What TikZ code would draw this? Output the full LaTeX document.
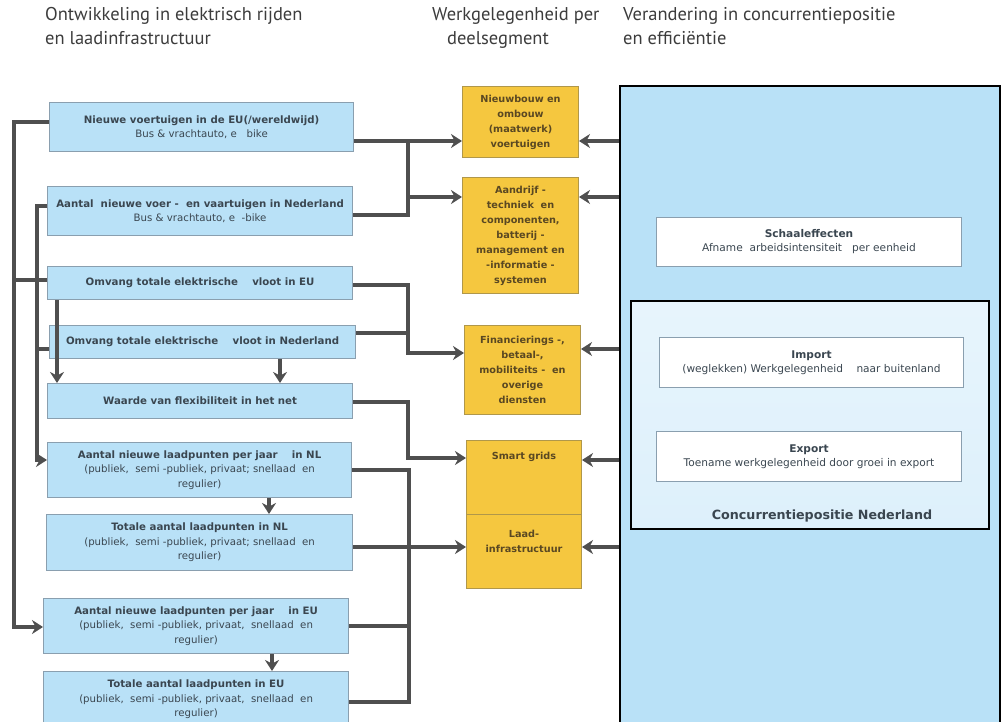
\documentclass[tikz,border=0pt]{standalone}
\usepackage{fontspec}
\setmainfont{DejaVu Sans}
\newfontfamily\kopfont{PT Sans}
\usetikzlibrary{arrows.meta,positioning}

\definecolor{vakblauw}{HTML}{B9E1F7}
\definecolor{lichtblauw}{HTML}{DDF0FB}
\definecolor{randblauw}{HTML}{8A9FAF}
\definecolor{vakgeel}{HTML}{F5C73F}
\definecolor{randgeel}{HTML}{B0974A}
\definecolor{pijlgrijs}{HTML}{4F4F4F}
\definecolor{tekstblauw}{HTML}{3A4650}
\definecolor{tekstgeel}{HTML}{5A4822}
\definecolor{koptekst}{HTML}{3C3C3C}

\begin{document}
\begin{tikzpicture}[x=1pt,y=-1pt,
  kop/.style={anchor=north west,align=left,inner sep=0pt,text=koptekst,font=\kopfont\fontsize{18.5}{24}\selectfont},
  blauw/.style={draw=randblauw,fill=vakblauw,line width=1.2pt,anchor=north west,align=center,inner sep=1pt,text=tekstblauw,font=\fontsize{10.2}{14.5}\selectfont},
  geel/.style={draw=randgeel,fill=vakgeel,line width=1pt,anchor=north west,align=center,inner sep=1pt,text=tekstgeel,font=\bfseries\fontsize{9.7}{15}\selectfont},
  wit/.style={draw=randblauw,fill=white,line width=1pt,anchor=north west,align=center,inner sep=1pt,text=tekstblauw,font=\fontsize{10.6}{14}\selectfont},
  lijn/.style={draw=pijlgrijs,line width=3.2pt},
  pijl/.style={lijn,-{Stealth[length=11pt,width=14pt]}}]
\useasboundingbox (0,0) rectangle (1001,722);

% koppen
\node[kop] (kop1) at (45,7) {Ontwikkeling in elektrisch rijden\\en laadinfrastructuur};
\node[kop] (kop2) at (432,7) {Werkgelegenheid per\\\hspace{15pt}deelsegment};
\node[kop] (kop3) at (623,7) {Verandering in concurrentiepositie\\en efficiëntie};

% ontwikkelingen
\node[blauw,minimum width=304,minimum height=49] (n1) at (49,102) {\textbf{Nieuwe voertuigen in de EU(/wereldwijd)}\\Bus \& vrachtauto, e~~~bike};
\node[blauw,minimum width=305,minimum height=49] (n2) at (47,186) {\textbf{Aantal~ nieuwe voer -~ en vaartuigen in Nederland}\\Bus \& vrachtauto, e~~-bike};
\node[blauw,minimum width=305,minimum height=33] (n3) at (47,266) {\textbf{Omvang totale elektrische~~~ vloot in EU}};
\node[blauw,minimum width=306,minimum height=33] (n4) at (49,325) {\textbf{Omvang totale elektrische~~~ vloot in Nederland}};
\node[blauw,minimum width=305,minimum height=35] (n5) at (47,383) {\textbf{Waarde van flexibiliteit in het net}};
\node[blauw,minimum width=304,minimum height=55] (n6) at (47,442) {\textbf{Aantal nieuwe laadpunten per jaar~~~ in NL}\\(publiek,~ semi -publiek, privaat; snellaad~ en\\regulier)};
\node[blauw,minimum width=306,minimum height=56] (n7) at (46,514) {\textbf{Totale aantal laadpunten in NL}\\(publiek,~ semi -publiek, privaat; snellaad~ en\\regulier)};
\node[blauw,minimum width=305,minimum height=55] (n8) at (43,598) {\textbf{Aantal nieuwe laadpunten per jaar~~~ in EU}\\(publiek,~ semi -publiek, privaat,~ snellaad~ en\\regulier)};
\node[blauw,minimum width=305,minimum height=56] (n9) at (43,671) {\textbf{Totale aantal laadpunten in EU}\\(publiek,~ semi -publiek, privaat,~ snellaad~ en\\regulier)};

% deelsegmenten
\node[geel,minimum width=116,minimum height=71] (y1) at (462,86) {Nieuwbouw en\\ombouw\\(maatwerk)\\voertuigen};
\node[geel,minimum width=116,minimum height=116] (y2) at (462,177) {Aandrijf -\\techniek~ en\\componenten,\\batterij -\\management en\\-informatie -\\systemen};
\node[geel,minimum width=116,minimum height=89] (y3) at (464,325) {Financierings -,\\betaal-,\\mobiliteits - ~en\\overige\\diensten};
\node[geel,minimum width=115,minimum height=74] (y4) at (466,440) {Smart grids\\[28pt]\mbox{}};
\node[geel,minimum width=115,minimum height=74] (y5) at (466,514) {Laad-\\infrastructuur\\[6pt]\mbox{}};

% concurrentiepositie
\node[draw=black,fill=vakblauw,line width=2.4pt,anchor=north west,minimum width=380,minimum height=660] (paneel) at (619,85) {};
\node[wit,minimum width=305,minimum height=49] (s1) at (656,217) {\textbf{Schaaleffecten}\\Afname~ arbeidsintensiteit~~ per eenheid};
\node[draw=black,top color=lichtblauw!70!white,bottom color=lichtblauw,line width=2.4pt,anchor=north west,minimum width=358,minimum height=228] (conc) at (630,300) {};
\node[wit,minimum width=304,minimum height=50] (s2) at (659,337) {\textbf{Import}\\(weglekken) Werkgelegenheid~~~ naar buitenland};
\node[wit,minimum width=305,minimum height=50] (s3) at (656,431) {\textbf{Export}\\Toename werkgelegenheid door groei in export};
\node[text=tekstblauw,font=\bfseries\fontsize{12.7}{15}\selectfont] (conclabel) at (822,516) {Concurrentiepositie Nederland};

% knooppunten
\coordinate (j1) at (408,141);
\coordinate (j2) at (408,353);
\coordinate (j3) at (408,458);
\coordinate (j4) at (409,702);
\coordinate (k1) at (14,122);
\coordinate (k2) at (37,206);

% naar de deelsegmenten
\draw[pijl] (n1.east |- j1) -- (y1.west |- j1);
\draw[lijn] (n2.east |- 0,215) -| (j1);
\draw[pijl] (j1 |- 0,197) -- (y2.west |- 0,197);
\draw[pijl] (n3.east |- 0,285) -| (j2) -- (y3.west |- j2);
\draw[lijn] (n4.east |- 0,333) -- (j2 |- 0,333);
\draw[pijl] (n5.east |- 0,402) -| (j3) -- (y4.west |- j3);
\draw[lijn] (n6.east |- 0,470) -| (j4) -- (n9.east |- j4);
\draw[lijn] (n8.east |- 0,626) -- (j4 |- 0,626);
\draw[pijl] (n7.east |- 0,547) -- (y5.west |- 0,547);

% terugkoppelingen links
\draw[pijl] (n1.west |- k1) -- (k1) |- (n8.west |- 0,627);
\draw[lijn] (k1 |- 0,280) -- (n3.west |- 0,280);
\draw[pijl] (n2.west |- k2) -- (k2) |- (n6.west |- 0,460);
\draw[lijn] (k2 |- 0,349) -- (n4.west |- 0,349);
\draw[pijl] (n3.south -| 57,0) -- (n5.north -| 57,0);
\draw[pijl] (n4.south -| 280,0) -- (n5.north -| 280,0);
\draw[pijl] (n6.south -| 269,0) -- (n7.north -| 269,0);
\draw[pijl] (n8.south -| 272,0) -- (n9.north -| 272,0);

% vanuit concurrentiepositie
\foreach \h/\doel in {141/y1,197/y2,349/y3,460/y4,547/y5}{
  \draw[pijl] (paneel.west |- 0,\h) -- (\doel.east |- 0,\h);
}
\end{tikzpicture}
\end{document}
